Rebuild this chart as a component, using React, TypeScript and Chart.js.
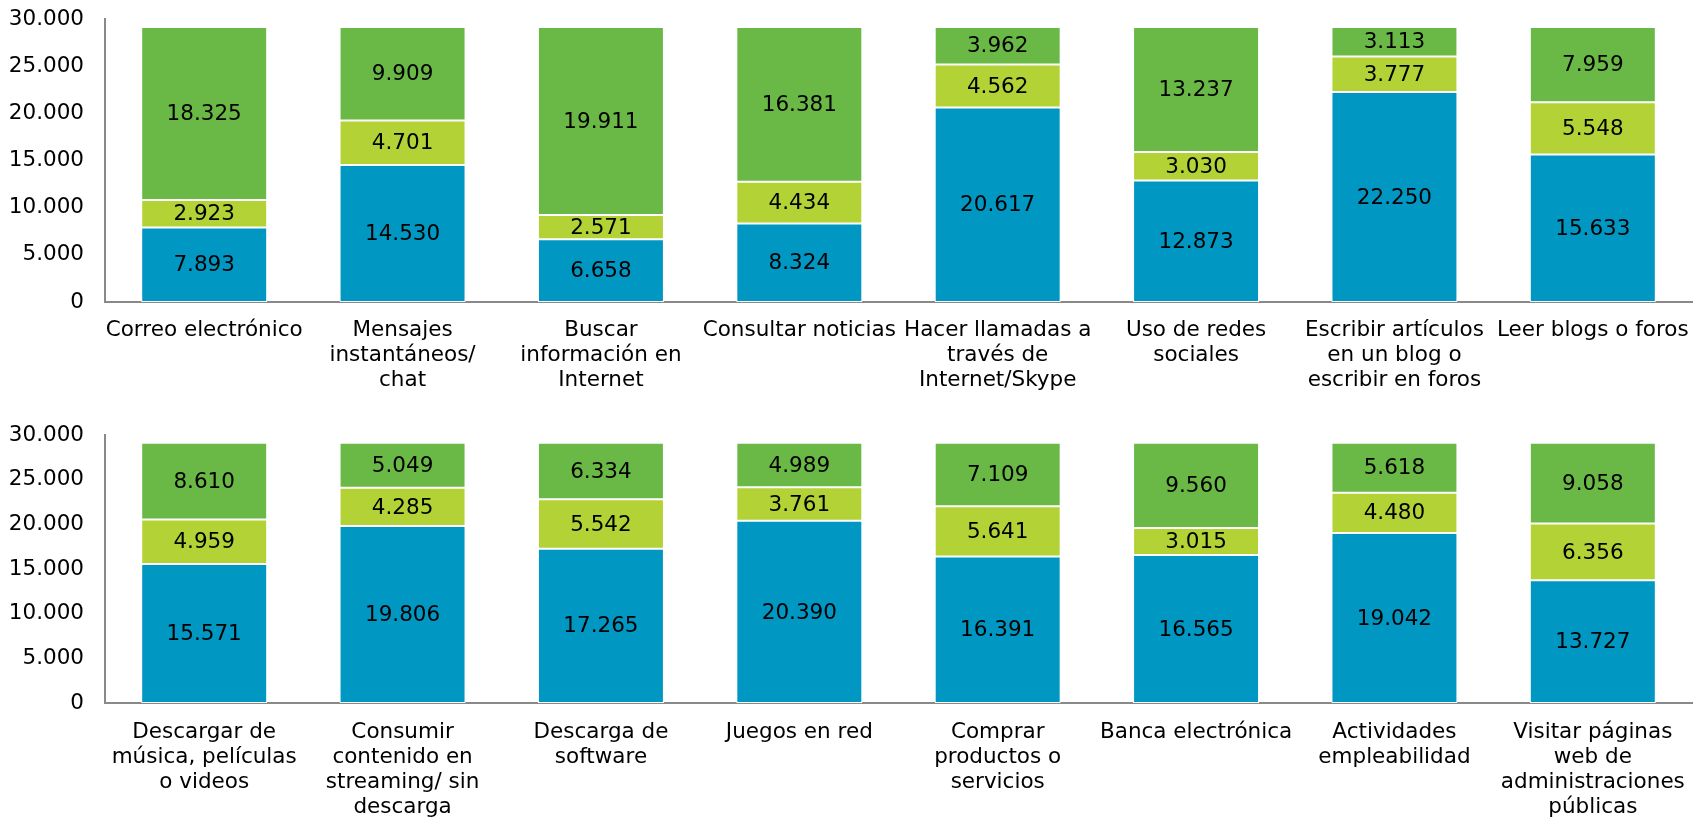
import React, { useEffect, useRef } from "react";
import { Chart, registerables } from "chart.js";

Chart.register(...registerables);

const topCategories: string[][] = [
  ["Correo electrónico"],
  ["Mensajes", "instantáneos/", "chat"],
  ["Buscar", "información en", "Internet"],
  ["Consultar noticias"],
  ["Hacer llamadas a", "través de", "Internet/Skype"],
  ["Uso de redes", "sociales"],
  ["Escribir artículos", "en un blog o", "escribir en foros"],
  ["Leer blogs o foros"],
];
const topBlue = [7893, 14530, 6658, 8324, 20617, 12873, 22250, 15633];
const topLime = [2923, 4701, 2571, 4434, 4562, 3030, 3777, 5548];
const topGreen = [18325, 9909, 19911, 16381, 3962, 13237, 3113, 7959];

const bottomCategories: string[][] = [
  ["Descargar de", "música, películas", "o videos"],
  ["Consumir", "contenido en", "streaming/ sin", "descarga"],
  ["Descarga de", "software"],
  ["Juegos en red"],
  ["Comprar", "productos o", "servicios"],
  ["Banca electrónica"],
  ["Actividades", "empleabilidad"],
  ["Visitar páginas", "web de", "administraciones", "públicas"],
];
const bottomBlue = [15571, 19806, 17265, 20390, 16391, 16565, 19042, 13727];
const bottomLime = [4959, 4285, 5542, 3761, 5641, 3015, 4480, 6356];
const bottomGreen = [8610, 5049, 6334, 4989, 7109, 9560, 5618, 9058];

const yMax = 30000;
const yStep = 5000;

const BLUE = "#0097C3";
const LIME = "#B3D235";
const GREEN = "#6AB845";
const FONT = '"DejaVu Sans", Verdana, sans-serif';
const FSIZE = 21.5;

function fmt(v: number): string {
  return String(Math.round(v)).replace(/\B(?=(\d{3})+(?!\d))/g, ".");
}

const segLabels = {
  id: "segLabels",
  afterDatasetsDraw(chart: any) {
    const ctx = chart.ctx;
    ctx.save();
    ctx.font = `${FSIZE}px ${FONT}`;
    ctx.fillStyle = "#000";
    ctx.textAlign = "center";
    ctx.textBaseline = "middle";
    chart.data.datasets.forEach((ds: any, i: number) => {
      const meta = chart.getDatasetMeta(i);
      meta.data.forEach((bar: any, j: number) => {
        const p = bar.getProps(["x", "y", "base"], true);
        ctx.fillText(fmt(ds.data[j]), p.x, (p.y + p.base) / 2 + 1);
      });
    });
    ctx.restore();
  },
};

function makeConfig(
  cats: string[][],
  blue: number[],
  lime: number[],
  green: number[],
  padTop: number,
  xHeight: number,
  xPad: number
): any {
  const mk = (data: number[], color: string) => ({
    data,
    backgroundColor: color,
    borderColor: "#ffffff",
    borderWidth: 1,
    borderSkipped: false,
    barPercentage: 0.635,
    categoryPercentage: 1,
  });
  return {
    type: "bar",
    data: {
      labels: cats,
      datasets: [mk(blue, BLUE), mk(lime, LIME), mk(green, GREEN)],
    },
    options: {
      responsive: false,
      animation: false,
      events: [],
      layout: { padding: { top: padTop, bottom: 0, left: 0, right: 3 } },
      plugins: { legend: { display: false }, tooltip: { enabled: false } },
      scales: {
        x: {
          stacked: true,
          grid: { display: false, drawTicks: false, tickLength: 0 },
          border: { display: true, color: "#898989", width: 2 },
          ticks: {
            color: "#000",
            font: { family: FONT, size: FSIZE, lineHeight: 25 / FSIZE },
            padding: xPad,
            maxRotation: 0,
            minRotation: 0,
            autoSkip: false,
          },
          afterFit: (s: any) => {
            s.height = xHeight;
            s.paddingLeft = 0;
            s.paddingRight = 0;
            s.paddingTop = 0;
            s.paddingBottom = 0;
          },
        },
        y: {
          stacked: true,
          min: 0,
          max: yMax,
          grid: { display: false, drawTicks: false, tickLength: 0 },
          border: { display: true, color: "#898989", width: 2 },
          ticks: {
            stepSize: yStep,
            color: "#000",
            font: { family: FONT, size: FSIZE },
            padding: 21,
            callback: (v: any) => fmt(Number(v)),
          },
          afterFit: (s: any) => {
            s.width = 105;
            s.paddingLeft = 0;
            s.paddingRight = 0;
            s.paddingTop = 0;
            s.paddingBottom = 0;
          },
        },
      },
    },
    plugins: [segLabels],
  };
}

function BarChart(props: { config: any; width: number; height: number; top: number }) {
  const ref = useRef<HTMLCanvasElement | null>(null);
  useEffect(() => {
    if (!ref.current) return;
    const chart = new Chart(ref.current, props.config);
    return () => chart.destroy();
  }, []);
  return (
    <canvas
      ref={ref}
      width={props.width}
      height={props.height}
      style={{ position: "absolute", left: 0, top: props.top, display: "block" }}
    />
  );
}

export default function App() {
  // top chart: plot area 19..302 ; bottom chart: plot area 435..703
  const cfgTop = makeConfig(topCategories, topBlue, topLime, topGreen, 19, 108, 16);
  const cfgBottom = makeConfig(bottomCategories, bottomBlue, bottomLime, bottomGreen, 25, 122, 17);
  return (
    <div
      style={{
        position: "fixed",
        left: 0,
        top: 0,
        width: 1695,
        height: 821,
        overflow: "hidden",
        background: "#fff",
      }}
    >
      <BarChart config={cfgTop} width={1695} height={410} top={0} />
      <BarChart config={cfgBottom} width={1695} height={415} top={410} />
    </div>
  );
}
